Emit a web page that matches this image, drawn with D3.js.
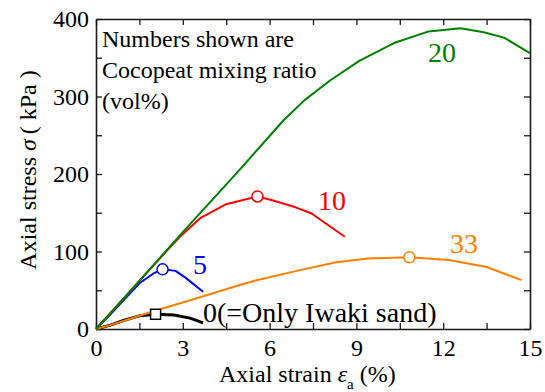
<!DOCTYPE html>
<html>
<head>
<meta charset="utf-8">
<script src="https://cdn.jsdelivr.net/npm/d3@7"></script>
<style>
  html, body { margin: 0; padding: 0; background: #fff; }
</style>
</head>
<body>
<svg id="chart" width="545" height="392" font-family="Liberation Serif, Times New Roman, serif"></svg>
<script>
// ---- data (axial strain %, axial stress kPa) ----
const strain0  = [0, 0.5, 0.95, 1.5, 2.06, 2.7, 3.25, 3.7];
const stress0  = [0, 5, 11, 17, 19, 18, 14, 8];

const strain5  = [0, 0.5, 0.95, 1.5, 2.0, 2.3, 2.75, 3.1, 3.7];
const stress5  = [0, 19, 37, 59, 72, 77, 75, 66, 48];

const strain10 = [0, 1.5, 2.5, 2.9, 3.6, 4.5, 5.58, 6.0, 6.9, 7.45, 8.6];
const stress10 = [0, 62, 103, 119, 143, 161, 171, 167, 157, 149, 119];

const strain20 = [0, 1, 2, 3, 4, 5, 6, 6.5, 7.2, 8.1, 9.1, 10.3, 11.5, 12.6, 13.4, 14.1, 15];
const stress20 = [0, 41, 83, 125, 166, 207, 249, 270, 295, 321, 346, 369, 384, 388, 383, 376, 356];

const strain33 = [0, 0.5, 1, 1.9, 3.25, 5, 5.55, 7.05, 8.3, 9.4, 10.83, 12.2, 13.5, 14.7];
const stress33 = [0, 5, 11, 22, 37, 57, 63, 76, 86, 91, 92.5, 89, 80, 63];

const peakStrain = [2.06, 2.3, 5.58, 10.83];
const peakStress = [19, 77, 171, 92.5];
const peakShape  = ["square", "circle", "circle", "circle"];

const xTickValues = [0, 1.5, 3, 4.5, 6, 7.5, 9, 10.5, 12, 13.5, 15];
const yTickValues = [0, 50, 100, 150, 200, 250, 300, 350, 400];
const xTickLabels = ["0", "3", "6", "9", "12", "15"];
const yTickLabels = ["0", "100", "200", "300", "400"];

const seriesNames = ["0", "5", "10", "20", "33"];
const noteLines = ["Numbers shown are", "Cocopeat mixing ratio", "(vol%)"];

// ---- drawing ----
const FONT = "Liberation Serif, Times New Roman, serif";
const colors = { "0": "#000000", "5": "#0000ff", "10": "#ff0000", "20": "#008000", "33": "#ff8000" };
const widths = { "0": 3, "5": 2, "10": 2, "20": 2, "33": 2 };

const svg = d3.select("#chart");
const x = d3.scaleLinear().domain([0, 15]).range([96, 530]);
const y = d3.scaleLinear().domain([0, 400]).range([329, 19]);

const fmtX = d => (Number.isInteger(d / 3) ? xTickLabels[d / 3] : "");
const fmtY = d => (d % 100 === 0 ? yTickLabels[d / 100] : "");

function styleAxis(g) {
  g.attr("font-family", FONT);
  g.selectAll(".domain").attr("stroke", "#1a1a1a").attr("stroke-width", 1.6);
  g.selectAll(".tick line").attr("stroke", "#1a1a1a").attr("stroke-width", 1.3);
  g.selectAll("text").attr("font-family", FONT).attr("font-size", 24).attr("fill", "#000");
}

// bottom
svg.append("g").attr("transform", `translate(0,${y(0)})`)
  .call(d3.axisBottom(x).tickValues(xTickValues).tickFormat(fmtX).tickSizeInner(-6).tickSizeOuter(0).tickPadding(10))
  .call(styleAxis);
// top
svg.append("g").attr("transform", `translate(0,${y(400)})`)
  .call(d3.axisTop(x).tickValues(xTickValues).tickFormat("").tickSizeInner(-6).tickSizeOuter(0))
  .call(styleAxis);
// left
svg.append("g").attr("transform", `translate(${x(0)},0)`)
  .call(d3.axisLeft(y).tickValues(yTickValues).tickFormat(fmtY).tickSizeInner(-6).tickSizeOuter(0).tickPadding(7))
  .call(styleAxis);
// right
svg.append("g").attr("transform", `translate(${x(15)},0)`)
  .call(d3.axisRight(y).tickValues(yTickValues).tickFormat("").tickSizeInner(-6).tickSizeOuter(0))
  .call(styleAxis);

// series
const series = [
  { name: "0",  xs: strain0,  ys: stress0 },
  { name: "33", xs: strain33, ys: stress33 },
  { name: "5",  xs: strain5,  ys: stress5 },
  { name: "10", xs: strain10, ys: stress10 },
  { name: "20", xs: strain20, ys: stress20 }
];
const line = d3.line().x(d => x(d[0])).y(d => y(d[1])).curve(d3.curveLinear);
series.forEach(s => {
  svg.append("path")
    .datum(s.xs.map((v, i) => [v, s.ys[i]]))
    .attr("d", line)
    .attr("fill", "none")
    .attr("stroke", colors[s.name])
    .attr("stroke-width", widths[s.name])
    .attr("stroke-linejoin", "round");
});

// peak markers
const markerColors = [colors["0"], colors["5"], colors["10"], colors["33"]];
peakStrain.forEach((sx, i) => {
  const cx = x(sx), cy = y(peakStress[i]);
  if (peakShape[i] === "square") {
    svg.append("rect").attr("x", cx - 5).attr("y", cy - 5).attr("width", 10).attr("height", 10)
      .attr("fill", "#fff").attr("stroke", markerColors[i]).attr("stroke-width", 1.5);
  } else {
    svg.append("circle").attr("cx", cx).attr("cy", cy).attr("r", 5.5)
      .attr("fill", "#fff").attr("stroke", markerColors[i]).attr("stroke-width", 1.5);
  }
});

// curve labels
const labelPos = {
  "20": [428, 62], "10": [318, 210], "33": [450, 253], "5": [193, 274], "0": [203, 322]
};
seriesNames.forEach(n => {
  svg.append("text")
    .attr("x", labelPos[n][0]).attr("y", labelPos[n][1])
    .attr("font-family", FONT)
    .attr("font-size", 28).attr("fill", colors[n])
    .text(n === "0" ? "0(=Only Iwaki sand)" : n);
});

// note
noteLines.forEach((t, i) => {
  svg.append("text").attr("x", 102).attr("y", 46.5 + i * 31)
    .attr("font-family", FONT)
    .attr("font-size", 24).attr("fill", "#000").text(t);
});

// x title
const xt = svg.append("text").attr("x", 219).attr("y", 381.5)
  .attr("font-family", FONT).attr("font-size", 24).attr("fill", "#000");
xt.append("tspan").text("Axial strain ");
xt.append("tspan").attr("font-style", "italic").text("ε");
xt.append("tspan").attr("font-size", 15).attr("dy", 7).text("a");
xt.append("tspan").attr("dy", -7).text(" (%)");

// y title
const yt = svg.append("text").attr("transform", "translate(36,170) rotate(-90)")
  .attr("font-family", FONT)
  .attr("text-anchor", "middle").attr("font-size", 24).attr("fill", "#000");
yt.append("tspan").text("Axial stress ");
yt.append("tspan").attr("font-style", "italic").text("σ");
yt.append("tspan").text("\u2009( kPa )");
</script>
</body>
</html>
